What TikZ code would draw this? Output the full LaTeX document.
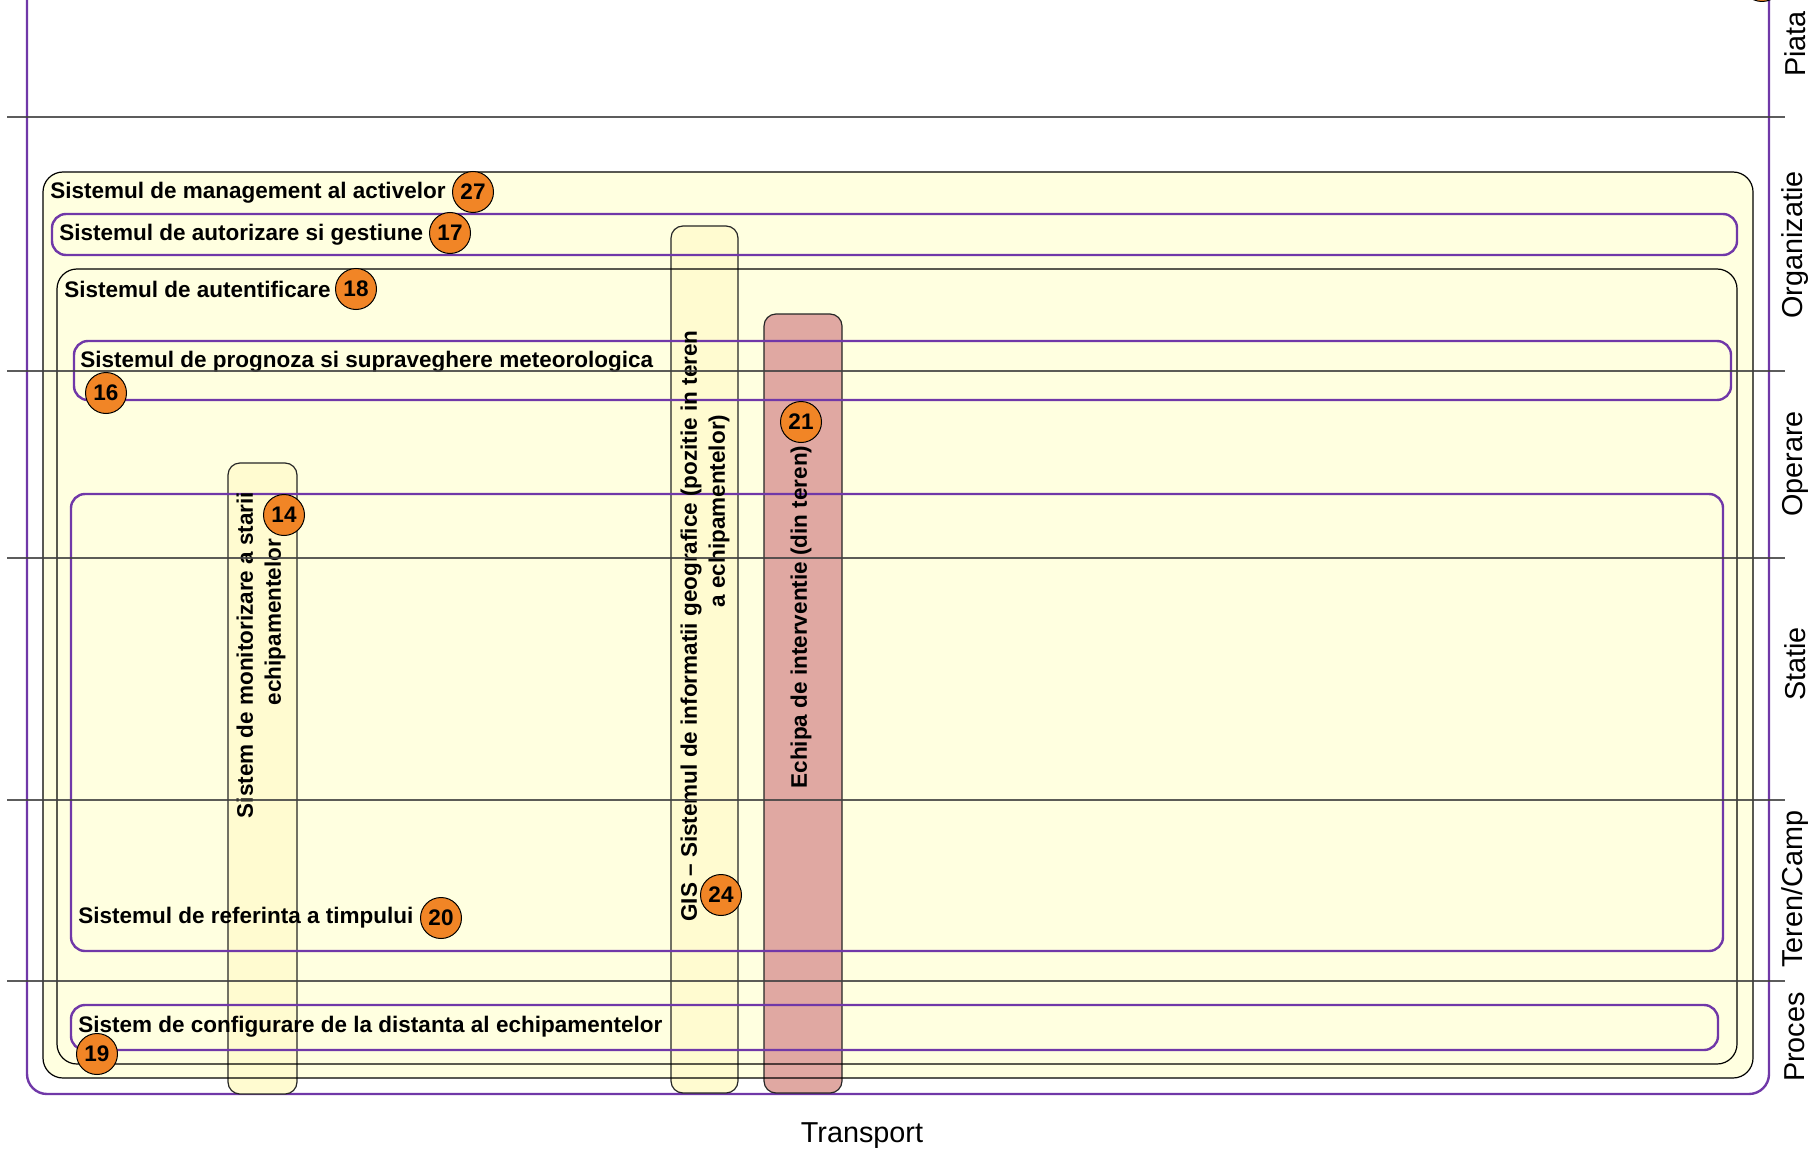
\documentclass[tikz,border=0pt]{standalone}
\usepackage{fontspec}
\setmainfont{Liberation Sans}
\definecolor{boxyellow}{RGB}{255,255,224}
\definecolor{colyellow}{RGB}{255,251,208}
\definecolor{teampink}{RGB}{224,168,162}
\definecolor{badgeorange}{RGB}{241,133,38}
\definecolor{sysviolet}{RGB}{112,56,168}
\definecolor{lanegray}{RGB}{64,64,64}
\begin{document}
\begin{tikzpicture}[x=0.5pt,y=-0.5pt,
    lane/.style={draw=lanegray,line width=0.6pt,draw opacity=0.85},
    lanelabel/.style={rotate=90,inner sep=0pt,font=\fontsize{14.4}{17}\selectfont},
    sysfill/.style={fill=boxyellow,rounded corners=10pt},
    sysline/.style={draw=black,line width=0.6pt,rounded corners=10pt},
    subline/.style={draw=sysviolet,line width=1.2pt,rounded corners=7pt},
    colbox/.style={draw=black!85,line width=0.6pt,rounded corners=6pt},
    title/.style={anchor=west,inner sep=0pt,font=\bfseries\fontsize{11.25}{13.5}\selectfont},
    coltitle/.style={rotate=90,inner sep=0pt,align=center,font=\bfseries\fontsize{11.25}{14}\selectfont},
    badge/.style={circle,draw=black,fill=badgeorange,line width=0.5pt,minimum size=20.5pt,
      inner sep=0pt,font=\bfseries\fontsize{11.25}{13.5}\selectfont}]
  \useasboundingbox (0,0) rectangle (1818,1150);

  % outer frame
  \draw[sysviolet,line width=1.2pt,rounded corners=10pt] (27,-40) rectangle (1769,1094);

  % fills of the nested systems
  \fill[sysfill] (43,172) rectangle (1753,1078);
  \fill[sysfill] (57,269) rectangle (1737,1064);

  % vertical systems
  \draw[colbox,fill=colyellow] (228,463) rectangle (297,1094);
  \draw[colbox,fill=colyellow] (671,226) rectangle (738,1093);
  \draw[colbox,fill=teampink] (764,314) rectangle (842,1093);

  % outlines
  \draw[sysline] (43,172) rectangle (1753,1078);
  \draw[sysline] (57,269) rectangle (1737,1064);
  \draw[subline] (52,214) rectangle (1737,255);
  \draw[subline] (74,341) rectangle (1731,400);
  \draw[subline] (71,494) rectangle (1723,951);
  \draw[subline] (71,1005) rectangle (1718,1050);

  % titles
  \node[title] (assets) at (50,193) {Sistemul de management al activelor};
  \node[title] (authz) at (59,235) {Sistemul de autorizare si gestiune};
  \node[title] (authn) at (64,289) {Sistemul de autentificare};
  \node[title] (meteo) at (80,362) {Sistemul de prognoza si supraveghere meteorologica};
  \node[title] (clock) at (78,918) {Sistemul de referinta a timpului};
  \node[title] (config) at (78,1027) {Sistem de configurare de la distanta al echipamentelor};
  \node[coltitle] (monitor) at (261,655) {Sistem de monitorizare a starii\\\hspace*{33pt}echipamentelor};
  \node[coltitle] (gis) at (705,626) {GIS – Sistemul de informatii geografice (pozitie in teren\\\hspace*{115pt}a echipamentelor)};
  \node[coltitle] (team) at (801,617) {Echipa de interventie (din teren)};

  % zones
  \draw[lane] (7,117) -- (1785,117);
  \draw[lane] (7,371) -- (1785,371);
  \draw[lane] (7,558) -- (1785,558);
  \draw[lane] (7,800) -- (1785,800);
  \draw[lane] (7,981) -- (1785,981);
  \node[lanelabel] (piata) at (1795,44) {Piata};
  \node[lanelabel] (organizatie) at (1795,245) {Organizatie};
  \node[lanelabel] (operare) at (1795,464) {Operare};
  \node[lanelabel] (statie) at (1795,664) {Statie};
  \node[lanelabel] (teren) at (1795,889) {Teren/Camp};
  \node[lanelabel] (proces) at (1795,1037) {Proces};
  \node[inner sep=0pt,font=\fontsize{14.4}{17}\selectfont] (transport) at (862,1136) {Transport};

  % numbers
  \node[badge] (b27) at (473,192) {27};
  \node[badge] (b17) at (450,233) {17};
  \node[badge] (b18) at (356,289) {18};
  \node[badge] (b16) at (106,393) {16};
  \node[badge] (b20) at (441,918) {20};
  \node[badge] (b19) at (97,1054) {19};
  \node[badge] (b14) at (284,515) {14};
  \node[badge] (b24) at (721,895) {24};
  \node[badge] (b21) at (801,422) {21};
  \node[badge] (btop) at (1762,-19) {};
\end{tikzpicture}
\end{document}
